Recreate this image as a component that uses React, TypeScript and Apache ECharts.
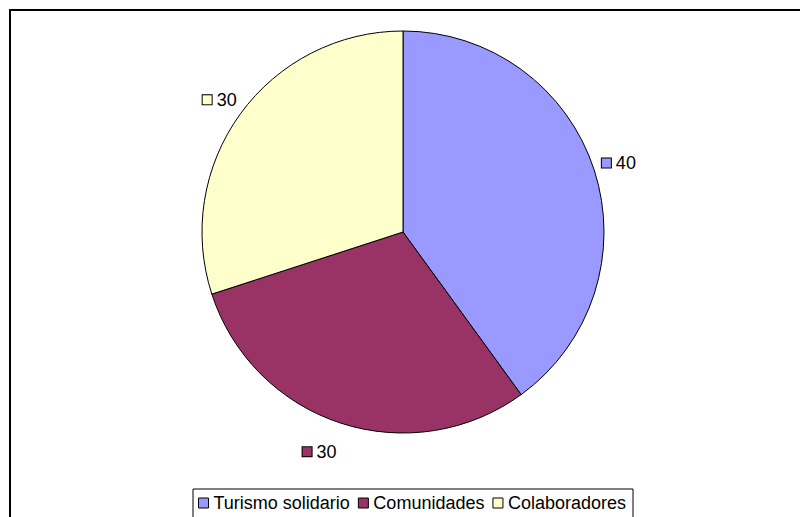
import React, { useEffect, useRef } from "react";
import * as echarts from "echarts";

const categories = ["Turismo solidario", "Comunidades", "Colaboradores"];
const values = [40, 30, 30];
const colors = ["#9999FF", "#993366", "#FFFFCC"];

export default function App() {
  const ref = useRef<HTMLDivElement>(null);
  useEffect(() => {
    if (!ref.current) return;
    const chart = echarts.init(ref.current, null, { renderer: "svg" });
    const font = "'Liberation Sans', Arial, sans-serif";
    const lineLen = [6, 30, 12];
    const shifts = [
      [-3, -5],
      [10, 0],
      [11, -7],
    ];
    const data = categories.map((name, i) => ({
      name,
      value: values[i],
      itemStyle: { color: colors[i] },
      labelLine: { show: false, length: lineLen[i], length2: 0 },
      label: {
        formatter: "{box|}{v|{c}}",
        rich: {
          box: {
            width: 9,
            height: 9,
            backgroundColor: colors[i],
            borderColor: "#000",
            borderWidth: 1,
          },
          v: { fontSize: 18, fontFamily: font, color: "#000", padding: [0, 0, 0, 5] },
        },
      },
    }));
    chart.setOption({
      animation: false,
      backgroundColor: "#fff",
      graphic: [
        {
          type: "rect",
          shape: { x: 10, y: 10, width: 800, height: 520 },
          style: { fill: "none", stroke: "#000", lineWidth: 2 },
          z: 100,
        },
      ],
      legend: {
        data: categories,
        left: 193,
        top: 489,
        padding: [5, 7, 8, 5],
        borderColor: "#000",
        borderWidth: 1,
        itemWidth: 10,
        itemHeight: 10,
        itemGap: 8,
        icon: "rect",
        itemStyle: { borderColor: "#000", borderWidth: 1 },
        textStyle: { fontSize: 18, fontFamily: font, color: "#000" },
        selectedMode: false,
      },
      series: [
        {
          type: "pie",
          center: [403, 232],
          radius: 201,
          startAngle: 90,
          clockwise: true,
          label: { show: true, position: "outside" },
          labelLayout: (p: any) => ({ dx: shifts[p.dataIndex][0], dy: shifts[p.dataIndex][1] }),
          emphasis: { disabled: true },
          itemStyle: { borderColor: "#000", borderWidth: 1 },
          data,
        },
      ],
    });
    return () => chart.dispose();
  }, []);
  return (
    <div
      ref={ref}
      style={{ position: "absolute", left: 0, top: 0, width: 800, height: 517 }}
    />
  );
}
